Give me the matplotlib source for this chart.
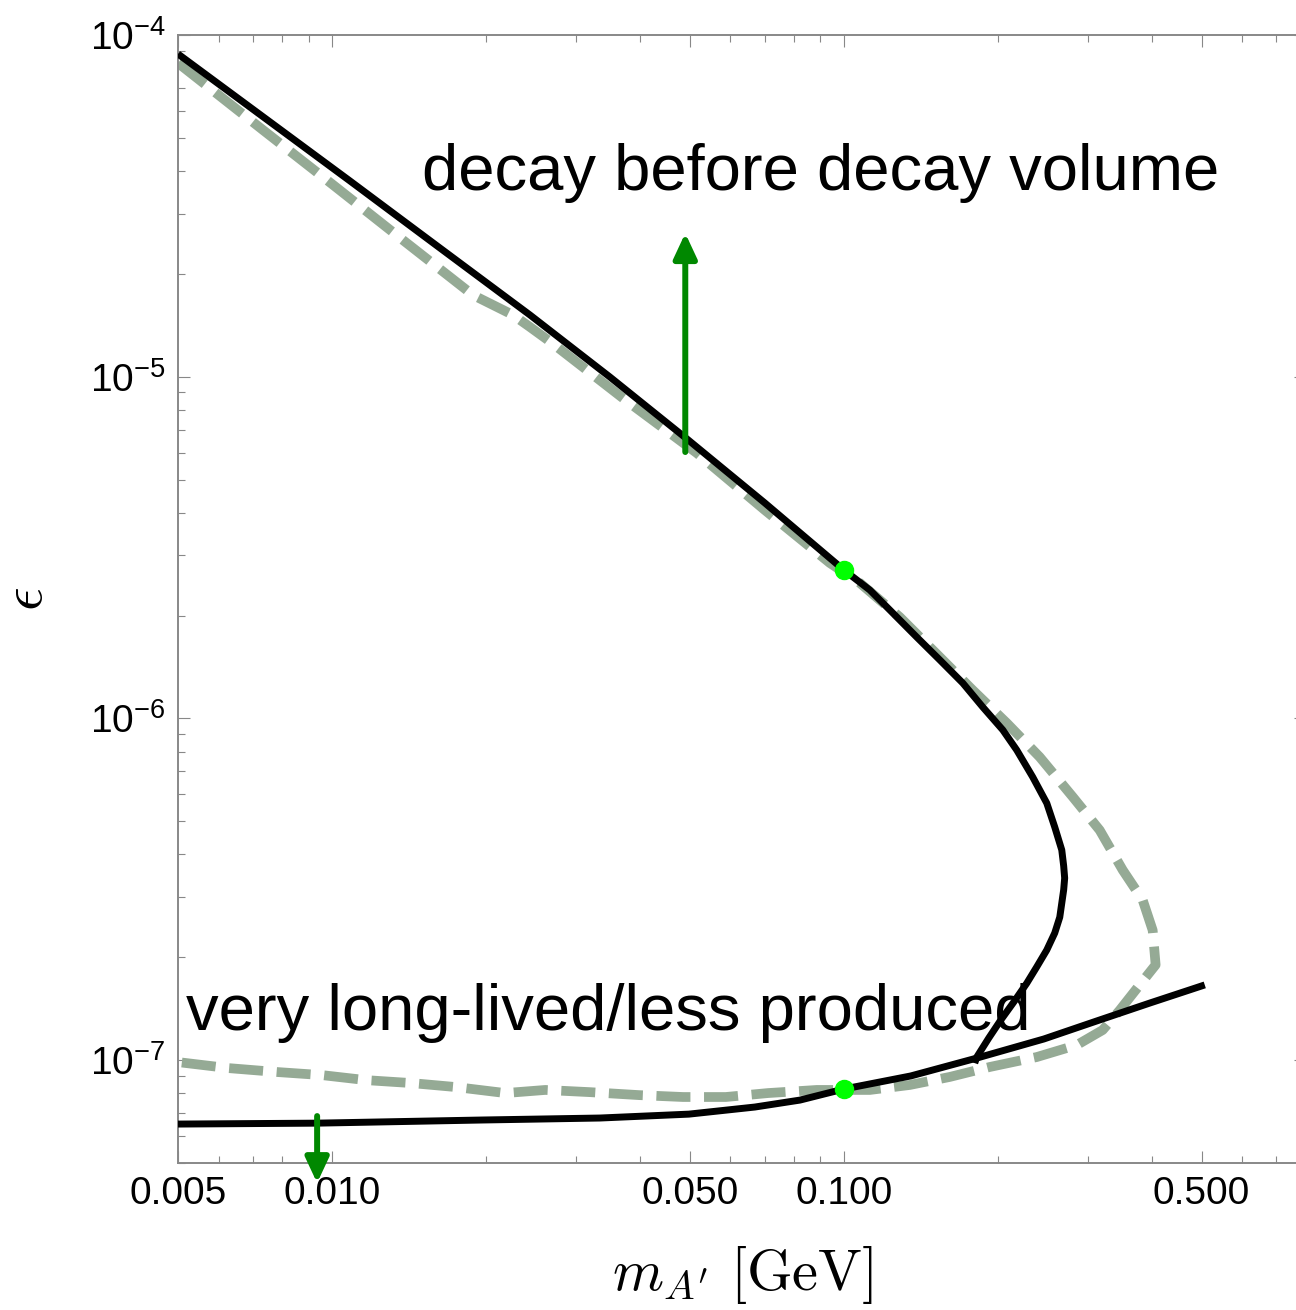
import matplotlib.pyplot as plt
from matplotlib.ticker import FixedLocator, FixedFormatter, NullFormatter

plt.rcParams['font.family'] = 'Liberation Sans'
plt.rcParams['mathtext.fontset'] = 'custom'
plt.rcParams['mathtext.rm'] = 'Liberation Sans'
plt.rcParams['mathtext.it'] = 'Liberation Sans:italic'
plt.rcParams['mathtext.bf'] = 'Liberation Sans:bold'

# solid boundary, upper branch (m_A' in GeV, epsilon)
upper_m = [0.0050, 0.01084, 0.01625, 0.02436, 0.03491, 0.0494, 0.0701, 0.100,
           0.1124, 0.1230, 0.1388, 0.1540, 0.1708, 0.1868, 0.2045, 0.2177,
           0.2339, 0.2492, 0.2583, 0.2666, 0.2689, 0.2701, 0.2689, 0.2642,
           0.2583, 0.2492, 0.2382, 0.2278, 0.2148, 0.2026, 0.1920, 0.1819,
           0.1802]
upper_eps = [8.80e-5, 3.74e-5, 2.38e-5, 1.516e-5, 9.98e-6, 6.57e-6, 4.27e-6,
             2.72e-6, 2.376e-6, 2.076e-6, 1.730e-6, 1.483e-6, 1.269e-6,
             1.080e-6, 9.25e-7, 8.08e-7, 6.74e-7, 5.65e-7, 4.81e-7, 4.12e-7,
             3.70e-7, 3.41e-7, 3.15e-7, 2.62e-7, 2.355e-7, 2.10e-7, 1.874e-7,
             1.68e-7, 1.479e-7, 1.31e-7, 1.161e-7, 1.021e-7, 9.80e-8]

# solid boundary, lower branch
lower_m = [0.0050, 0.00935, 0.01963, 0.03337, 0.04981, 0.0670, 0.0821, 0.100,
           0.1352, 0.1819, 0.2459, 0.3120, 0.3961, 0.5073]
lower_eps = [6.50e-8, 6.54e-8, 6.68e-8, 6.77e-8, 6.95e-8, 7.29e-8, 7.64e-8,
             8.23e-8, 8.99e-8, 1.014e-7, 1.153e-7, 1.302e-7, 1.469e-7, 1.66e-7]

# dashed boundary
dash_m = [0.00500, 0.00733, 0.01005, 0.01376, 0.01885, 0.02257, 0.02436,
          0.0269, 0.0370, 0.0516, 0.0701, 0.0939, 0.1075, 0.1286, 0.1540,
          0.1786, 0.2082, 0.2414, 0.2802, 0.3162, 0.3507, 0.3837, 0.4013,
          0.4067, 0.3785, 0.3460, 0.3205, 0.2852, 0.2382, 0.1929, 0.1611,
          0.1346, 0.1124, 0.0886, 0.0711, 0.0588, 0.0485, 0.0398, 0.0319,
          0.0261, 0.0218, 0.01747, 0.01427, 0.01165, 0.00956, 0.00781,
          0.00626, 0.00500]
dash_eps = [8.28e-5, 5.27e-5, 3.64e-5, 2.51e-5, 1.734e-5, 1.516e-5, 1.398e-5,
            1.255e-5, 8.66e-6, 5.98e-6, 4.07e-6, 2.85e-6, 2.49e-6, 1.98e-6,
            1.512e-6, 1.210e-6, 9.69e-7, 7.71e-7, 5.89e-7, 4.71e-7, 3.60e-7,
            2.94e-7, 2.40e-7, 1.90e-7, 1.66e-7, 1.40e-7, 1.225e-7, 1.107e-7,
            1.021e-7, 9.55e-8, 8.93e-8, 8.46e-8, 8.18e-8, 8.18e-8, 8.01e-8,
            7.80e-8, 7.80e-8, 7.90e-8, 8.06e-8, 8.18e-8, 8.01e-8, 8.34e-8,
            8.57e-8, 8.74e-8, 9.04e-8, 9.23e-8, 9.48e-8, 9.87e-8]

# benchmark points
bench_m = [0.1, 0.1]
bench_eps = [2.72e-6, 8.23e-8]

# arrows: (mass, tail epsilon, head epsilon)
up_arrow = (0.049, 6.02e-6, 2.63e-5)
down_arrow = (0.00935, 6.86e-8, 4.37e-8)

xticks = [0.005, 0.01, 0.05, 0.1, 0.5]
xticklabels = ["0.005", "0.010", "0.050", "0.100", "0.500"]
xminor = [0.006, 0.007, 0.008, 0.009, 0.02, 0.03, 0.04, 0.06, 0.07, 0.08,
          0.09, 0.2, 0.3, 0.4, 0.6, 0.7]

fig = plt.figure(figsize=(12.96, 13.10), dpi=100)
ax = fig.add_axes([178/1296, 147/1310, 1128/1296, 1128/1310])
ax.set_xscale('log')
ax.set_yscale('log')
ax.set_xlim(0.005, 0.8)
ax.set_ylim(5e-8, 1e-4)

ax.plot(dash_m, dash_eps, color='#95aa95', lw=7, ls=(0, (3.5, 1.4)), zorder=2)
ax.plot(upper_m, upper_eps, color='black', lw=5, solid_capstyle='butt',
        solid_joinstyle='round', zorder=3)
ax.plot(lower_m, lower_eps, color='black', lw=5, solid_capstyle='butt',
        solid_joinstyle='round', zorder=3)
ax.plot(bench_m, bench_eps, 'o', color='#00ff00', ms=13, zorder=5)

arrow_kw = dict(arrowstyle='-|>,head_length=0.75,head_width=0.35',
                color='#008800', lw=4.3, mutation_scale=20,
                shrinkA=0, shrinkB=0)
ax.annotate('', xy=(up_arrow[0], up_arrow[2]), xytext=(up_arrow[0], up_arrow[1]),
            arrowprops=arrow_kw, zorder=4)
ax.annotate('', xy=(down_arrow[0], down_arrow[2]),
            xytext=(down_arrow[0], down_arrow[1]),
            arrowprops=arrow_kw, annotation_clip=False, zorder=4)

ax.text(0.0150, 3.52e-5, 'decay before decay volume', fontsize=47,
        ha='left', va='baseline')
ax.text(0.00519, 1.225e-7, 'very long-lived/less produced', fontsize=47,
        ha='left', va='baseline')

ax.xaxis.set_major_locator(FixedLocator(xticks))
ax.xaxis.set_major_formatter(FixedFormatter(xticklabels))
ax.xaxis.set_minor_locator(FixedLocator(xminor))
ax.xaxis.set_minor_formatter(NullFormatter())
ax.yaxis.set_minor_formatter(NullFormatter())

for s in ax.spines.values():
    s.set_color('#888888')
    s.set_linewidth(1.4)
ax.tick_params(which='both', direction='in', top=True, right=True,
               color='#888888', width=0.8, labelsize=28)
ax.tick_params(which='major', length=8.5)
ax.tick_params(which='minor', length=4.7)
ax.tick_params(axis='x', pad=9)
ax.tick_params(axis='y', pad=9)

ax.set_xlabel(r"$m_{A^{\prime}}\ [\mathrm{GeV}]$", fontsize=42,
              math_fontfamily='cm')
ax.xaxis.set_label_coords(0.5, -0.072)
ax.set_ylabel(r"$\epsilon$", fontsize=42, math_fontfamily='cm')
ax.yaxis.set_label_coords(-0.110, 0.5)

fig.savefig('out.png', dpi=100)
